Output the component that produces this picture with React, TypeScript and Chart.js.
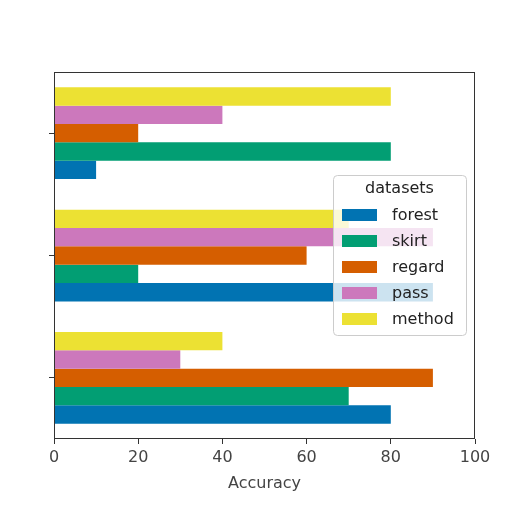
import { useRef, useEffect } from "react"
import { Chart, registerables, type ChartConfiguration, type Plugin } from "chart.js"

Chart.register(...registerables)

const groups = ["A", "B", "C"]
const seriesNames = ["forest", "skirt", "regard", "pass", "method"]
const seriesColors = ["#0173b2", "#029e73", "#d55e00", "#cc78bc", "#ece133"]
const forest = [80, 90, 10]
const skirt = [70, 20, 80]
const regard = [90, 60, 20]
const pass = [30, 90, 40]
const method = [40, 70, 80]
const xTicks = [0, 20, 40, 60, 80, 100]

const FONT = "'DejaVu Sans', sans-serif"

// frame round the plot area + matplotlib-like legend inside it
const framePlugin: Plugin = {
  id: "frame",
  afterDraw(chart) {
    const { ctx, chartArea } = chart
    const { left, right, top, bottom } = chartArea
    ctx.save()
    ctx.strokeStyle = "#333"
    ctx.lineWidth = 1
    ctx.strokeRect(left + 0.5, top + 0.5, right - left - 1, bottom - top - 1)

    // legend
    const bx = 333, by = 175, bw = 133, bh = 160
    ctx.beginPath()
    ctx.roundRect(bx + 0.5, by + 0.5, bw, bh, 4)
    ctx.fillStyle = "rgba(255,255,255,0.8)"
    ctx.fill()
    ctx.strokeStyle = "#cccccc"
    ctx.stroke()

    ctx.fillStyle = "#222"
    ctx.font = `16px ${FONT}`
    ctx.textBaseline = "middle"
    ctx.textAlign = "center"
    ctx.fillText("datasets", bx + bw / 2, by + 14)
    ctx.textAlign = "left"
    // datasets are stored method..forest so forest sits at the bottom of each group
    const items = [...chart.data.datasets].reverse()
    items.forEach((ds, i) => {
      const cy = by + 40 + i * 26
      ctx.fillStyle = ds.backgroundColor as string
      ctx.fillRect(bx + 9, cy - 6, 35, 12)
      ctx.fillStyle = "#222"
      ctx.fillText(ds.label as string, bx + 59, cy + 1)
    })
    ctx.restore()
  },
}

export default function App() {
  const chartRef = useRef<HTMLCanvasElement>(null)
  const chartInstance = useRef<Chart | null>(null)

  useEffect(() => {
    if (!chartRef.current) return
    const values = [forest, skirt, regard, pass, method]

    const datasets = seriesNames.map((name, i) => ({
      label: name,
      data: values[i],
      backgroundColor: seriesColors[i],
      borderWidth: 0,
      categoryPercentage: 0.75,
      barPercentage: 1,
    }))

    const config: ChartConfiguration = {
      type: "bar",
      data: {
        labels: groups,
        datasets: datasets.reverse(),
      },
      options: {
        indexAxis: "y",
        animation: false,
        responsive: true,
        maintainAspectRatio: false,
        layout: { padding: { top: 72, right: 37, bottom: 19, left: 0 } },
        plugins: {
          legend: { display: false },
          tooltip: { enabled: false },
        },
        scales: {
          x: {
            min: 0,
            max: 100,
            afterBuildTicks: (scale) => {
              scale.ticks = xTicks.map((v) => ({ value: v }))
            },
            afterFit: (scale) => {
              scale.height = 54
            },
            border: { display: false },
            grid: {
              drawOnChartArea: false,
              drawTicks: true,
              tickLength: 5,
              color: "#333",
            },
            ticks: {
              color: "#444",
              padding: 4,
              font: { family: FONT, size: 16 },
            },
            title: {
              display: true,
              text: "Accuracy",
              color: "#444",
              padding: { top: 2, bottom: 0 },
              font: { family: FONT, size: 16 },
            },
          },
          y: {
            reverse: true,
            afterFit: (scale) => {
              scale.width = 54
            },
            border: { display: false },
            grid: {
              offset: false,
              drawOnChartArea: false,
              drawTicks: true,
              tickLength: 5,
              color: "#333",
            },
            ticks: {
              callback: () => "",
              padding: 0,
            },
          },
        },
      },
      plugins: [framePlugin],
    }

    chartInstance.current = new Chart(chartRef.current, config)

    return () => {
      if (chartInstance.current) {
        chartInstance.current.destroy()
      }
    }
  }, [])

  return (
    <div style={{ position: "fixed", left: 0, top: 0, width: 512, height: 512, background: "#fff" }}>
      <canvas ref={chartRef}></canvas>
    </div>
  )
}
